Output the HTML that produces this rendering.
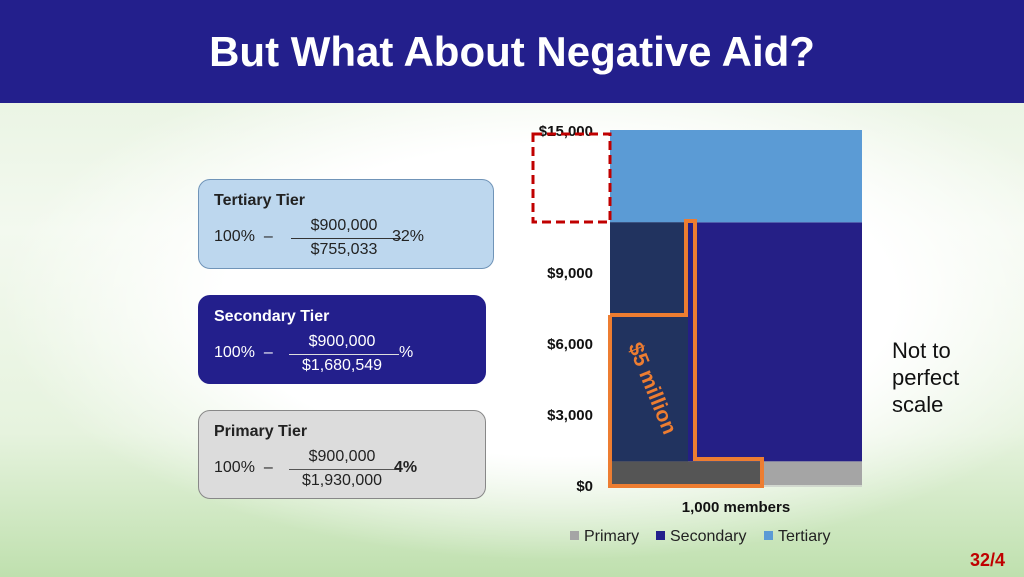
<!DOCTYPE html>
<html><head><meta charset="utf-8"><style>
body{margin:0;width:1024px;height:577px;overflow:hidden;font-family:"Liberation Sans",sans-serif;}
#bg{position:absolute;left:0;top:0;width:1024px;height:577px;background:
radial-gradient(ellipse 560px 260px at 560px 300px,#ffffff 0%,#ffffff 60%,rgba(255,255,255,0) 100%),
linear-gradient(180deg,#e4f1dc 0%,#f3f9ef 40%,#e6f3de 75%,#bfe0ae 100%);}
.hdr{position:absolute;left:0;top:0;width:1024px;height:103px;background:#231f8c;color:#fff;font-weight:bold;font-size:42px;text-align:center;line-height:103px;}
.box{position:absolute;border-radius:12px;box-sizing:border-box;font-size:16px;}
.box .t{position:absolute;left:15px;top:12px;font-weight:bold;}
.box .p{position:absolute;left:15px;top:48px;}
.box .n{position:absolute;top:37px;width:110px;text-align:center;}
.box .d{position:absolute;top:61px;width:110px;text-align:center;}
.box .l{position:absolute;top:58px;height:1px;width:110px;}
.box .r{position:absolute;top:48px;}
</style></head><body>
<div id="bg"></div>
<div class="hdr">But What About Negative Aid?</div>

<div class="box" style="left:198px;top:179px;width:296px;height:90px;background:#bdd7ee;border:1px solid #7094b8;color:#222">
<div class="t">Tertiary Tier</div><div class="p">100% &nbsp;–</div>
<div class="n" style="left:90px">$900,000</div><div class="l" style="left:92px;background:#333"></div><div class="d" style="left:90px">$755,033</div><div class="r" style="left:193px">32%</div></div>

<div class="box" style="left:198px;top:295px;width:288px;height:89px;background:#231f8c;border:1px solid #231f8c;color:#fff">
<div class="t">Secondary Tier</div><div class="p">100% &nbsp;–</div>
<div class="n" style="left:88px">$900,000</div><div class="l" style="left:90px;background:#ddd"></div><div class="d" style="left:88px">$1,680,549</div><div class="r" style="left:200px">%</div></div>

<div class="box" style="left:198px;top:410px;width:288px;height:89px;background:#dcdcdc;border:1px solid #888;color:#222">
<div class="t">Primary Tier</div><div class="p">100% &nbsp;–</div>
<div class="n" style="left:88px">$900,000</div><div class="l" style="left:90px;background:#555"></div><div class="d" style="left:88px">$1,930,000</div><div class="r" style="left:195px;font-weight:bold">4%</div></div>

<svg id="chart" width="1024" height="577" style="position:absolute;left:0;top:0"></svg>
<div style="position:absolute;left:892px;top:337px;font-size:22px;line-height:27px;color:#111">Not to<br>perfect<br>scale</div>
<div style="position:absolute;left:970px;top:550px;font-size:18px;color:#c00000;font-weight:bold">32/4</div>
<script>
const categories=["1,000 members"];
const seriesNames=["Primary","Secondary","Tertiary"];
const primary=[1000];
const secondary=[10100];
const tertiary=[3900];
const ticks=[0,3000,6000,9000,15000];
const tickLabels=["$0","$3,000","$6,000","$9,000","$15,000"];
const colors=["#a5a5a5","#251f86","#5b9bd5"];
const NS="http://www.w3.org/2000/svg";
const svg=document.getElementById('chart');
const y0=485,y1=130,vmax=15000,x0=610,x1=862;
const y=v=>y0-(v/vmax)*(y0-y1);
function mk(t,a){const e=document.createElementNS(NS,t);for(const k in a)e.setAttribute(k,a[k]);svg.appendChild(e);return e;}
const series=[primary,secondary,tertiary];
let base=0;
series.forEach((s,i)=>{const r=mk('rect',{x:x0,y:y(base+s[0]),width:x1-x0,height:y(base)-y(base+s[0]),fill:colors[i]});

base+=s[0];});
const o1=mk('rect',{x:x0,y:y(primary[0]+secondary[0]),width:78,height:y(primary[0])-y(primary[0]+secondary[0]),fill:"#21335f"});


const o2=mk('rect',{x:x0,y:y(primary[0]),width:152,height:y(0)-y(primary[0]),fill:"#555555"});


ticks.forEach((t,i)=>{const tx=mk('text',{x:593,y:y(t)+6,'text-anchor':'end','font-size':15,'font-weight':'bold',fill:'#111','font-family':'Liberation Sans'});tx.textContent=tickLabels[i];

});
const ax=mk('line',{x1:x0,x2:x1,y1:y0+1,y2:y0+1,stroke:'#bbb'});


const cl=mk('text',{x:736,y:512,'text-anchor':'middle','font-size':15,'font-weight':'bold',fill:'#111','font-family':'Liberation Sans'});cl.textContent=categories[0];


const lx=[570,656,764];
seriesNames.forEach((n,i)=>{const r=mk('rect',{x:lx[i],y:531,width:9,height:9,fill:i==1?'#231f8c':colors[i]});


const t=mk('text',{x:lx[i]+14,y:541,'font-size':16,fill:'#222','font-family':'Liberation Sans'});t.textContent=n;

});
const pl=mk('polyline',{points:"610,315 686,315 686,221 695,221 695,459 762,459 762,486 610,486 610,315",fill:'none',stroke:'#ed7d31','stroke-width':4});


const rd=mk('rect',{x:533,y:134,width:77,height:88,fill:'none',stroke:'#c00000','stroke-width':3,'stroke-dasharray':'9,5'});


const ml=mk('text',{x:0,y:0,'font-size':21,'font-weight':'bold',fill:'#ed7d31','font-family':'Liberation Sans',transform:'translate(628,346) rotate(68)'});ml.textContent="$5 million";


</script>
</body></html>
